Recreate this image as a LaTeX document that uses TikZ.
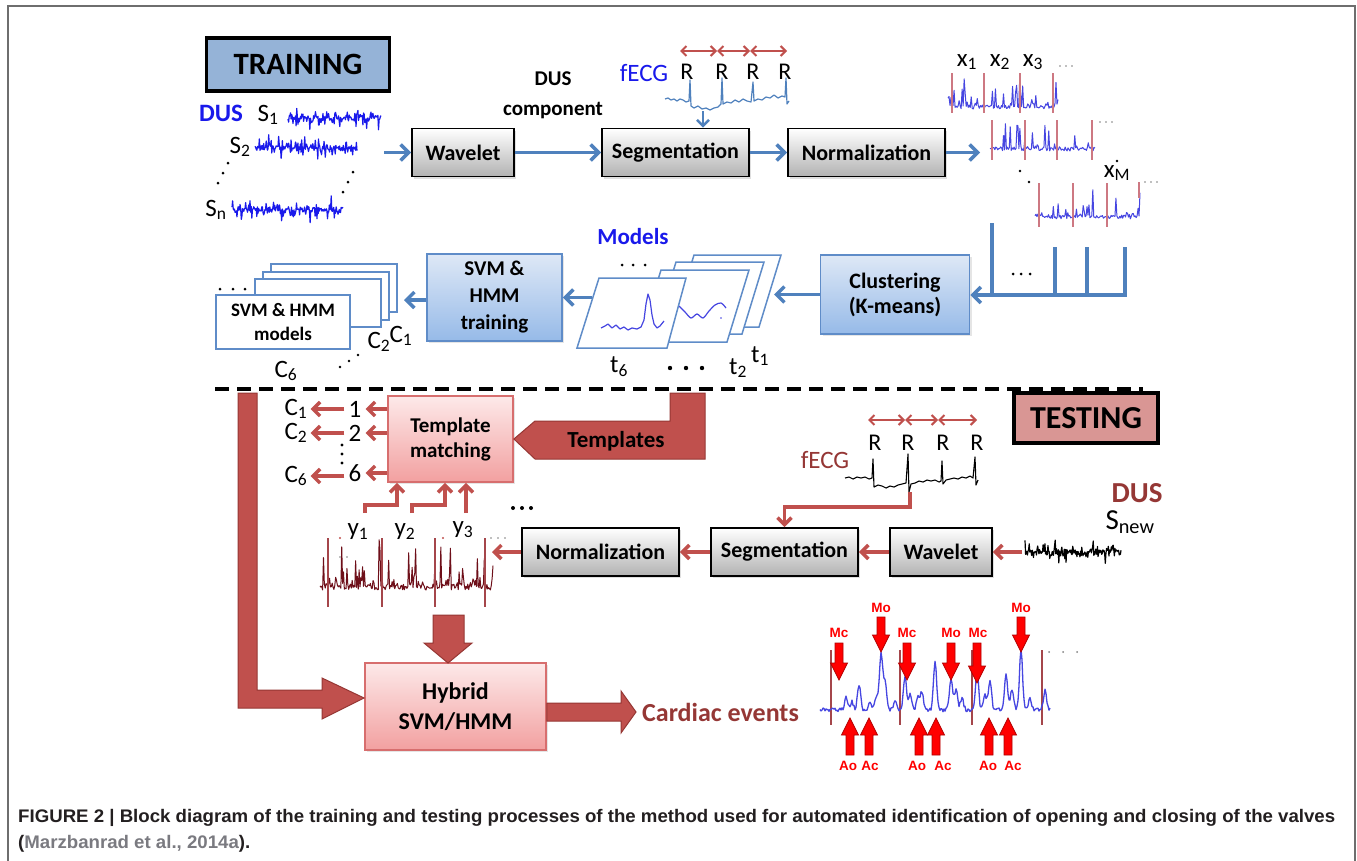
\documentclass[tikz,border=0pt]{standalone}
\usepackage{fontspec}
\setmainfont{Carlito}
\newfontfamily\capfont{Liberation Sans}
\usepackage{graphicx}
\usetikzlibrary{arrows.meta,shadows,calc}
\definecolor{tblue}{RGB}{79,129,189}
\definecolor{tred}{RGB}{192,80,77}
\definecolor{tredD}{RGB}{150,55,52}
\definecolor{dred}{RGB}{149,55,53}
\definecolor{sigblue}{RGB}{25,25,235}
\definecolor{nsblue}{RGB}{70,70,225}
\definecolor{nsline}{RGB}{205,120,130}
\definecolor{trainblue}{RGB}{149,179,215}
\definecolor{testpink}{RGB}{217,150,148}
\definecolor{boxgray}{RGB}{178,178,178}
\definecolor{blueT}{RGB}{222,232,246}
\definecolor{blueB}{RGB}{150,186,232}
\definecolor{bluebord}{RGB}{95,140,200}
\definecolor{pinkT}{RGB}{253,233,233}
\definecolor{pinkB}{RGB}{242,160,160}
\definecolor{pinkbord}{RGB}{215,110,110}
\definecolor{ecgred}{RGB}{110,15,25}
\definecolor{vlred}{RGB}{165,70,75}
\definecolor{capgray}{RGB}{122,122,128}
\definecolor{framegray}{RGB}{110,110,110}
\definecolor{captext}{RGB}{35,31,32}
\newcommand\bxf{\fontsize{22}{25}\selectfont\bfseries}
\newcommand\lbf{\fontsize{25}{28}\selectfont}
\newcommand\evf{\capfont\bfseries\fontsize{13.5}{15}\selectfont}
\newcommand\noisesig[6]{\pgfmathsetseed{#6}\draw[#1,line width=1.2pt,line join=round] plot[domain=#2:#3,samples=#5] (\x,{#4+2.5*rand+17*rand*rand*rand});}
\newcommand\normsig[4]{\pgfmathsetseed{#3}\draw[nsblue,line width=1pt,line join=round] plot[domain=#1:#4,samples=110] (\x,{#2-3-2*rand-28*pow(abs(rand),9)});}
\newcommand\dnar[3]{\filldraw[evarrow] ({#1-4},#2) -- ({#1+4},#2) -- ({#1+4},{#3-17}) -- ({#1+8.5},{#3-17}) -- (#1,#3) -- ({#1-8.5},{#3-17}) -- ({#1-4},{#3-17}) -- cycle;}
\newcommand\upar[3]{\filldraw[evarrow] ({#1-4},#2) -- ({#1+4},#2) -- ({#1+4},{#3+17}) -- ({#1+8.5},{#3+17}) -- (#1,#3) -- ({#1-8.5},{#3+17}) -- ({#1-4},{#3+17}) -- cycle;}
\newsavebox\capboxA
\newsavebox\capboxB
\begin{document}
\sbox\capboxA{\capfont\bfseries\fontsize{20}{24}\selectfont\color{captext}FIGURE 2 | Block diagram of the training and testing processes of the method used for automated identification of opening and closing of the valves}%
\sbox\capboxB{\capfont\bfseries\fontsize{20}{24}\selectfont\color{captext}(\textcolor{capgray}{Marzbanrad et al., 2014a}).}%
\pgfmathsetmacro\capsx{1317pt/\the\wd\capboxA}%
\begin{tikzpicture}[x=1pt,y=-1pt,
 barrow/.style={draw=tblue,line width=3.5pt,-{Straight Barb[length=8pt,width=16pt]}},
 barrowS/.style={draw=tblue,line width=2.5pt,-{Straight Barb[length=6pt,width=12pt]}},
 rarrow/.style={draw=tred,line width=3.5pt,-{Straight Barb[length=7pt,width=14pt]}},
 dbl/.style={draw=tred,line width=2pt,{Straight Barb[length=5pt,width=10pt]}-{Straight Barb[length=5pt,width=10pt]}},
 graybox/.style={draw=black,line width=1.8pt,top color=white,bottom color=boxgray,font=\bxf,minimum height=48pt,inner sep=0pt,drop shadow={opacity=0.25,shadow xshift=2pt,shadow yshift=-2pt}},
 bluebox/.style={draw=bluebord,line width=1.8pt,top color=blueT,bottom color=blueB,font=\bxf,align=center,inner sep=0pt,drop shadow={opacity=0.2,shadow xshift=2pt,shadow yshift=-2pt}},
 pinkbox/.style={draw=pinkbord,line width=1.8pt,top color=pinkT,bottom color=pinkB,font=\bxf,align=center,inner sep=0pt,drop shadow={opacity=0.2,shadow xshift=2pt,shadow yshift=-2pt}},
 sheet/.style={draw=bluebord,line width=1.5pt,fill=white},
 lbl/.style={font=\lbf,inner sep=0pt},
 bigred/.style={fill=tred,draw=tredD,line width=1pt},
 evarrow/.style={fill=red,draw=red!70!black,line width=0.8pt},
 evlbl/.style={font=\evf,text=red,inner sep=0pt}
]
\useasboundingbox (0,0) rectangle (1357,860);
\fill[white] (0,0) rectangle (1357,860);
\draw[framegray,line width=2pt] (8,870) -- (8,6) -- (1355,6) -- (1355,870);

% ---------------- TRAINING ----------------
\node[draw=black,line width=3.5pt,fill=trainblue,minimum width=183pt,minimum height=53pt,inner sep=0pt,font=\fontsize{31}{34}\selectfont\bfseries] (train) at (298,64.5) {TRAINING};

\node[lbl,font=\fontsize{25}{28}\selectfont\bfseries,text=sigblue] (dusA) at (221,113) {DUS};
\node[lbl] (sA) at (268,115) {S\textsubscript{1}};
\node[lbl] (sB) at (240,147) {S\textsubscript{2}};
\node[lbl] (sN) at (216,210) {S\textsubscript{n}};
\noisesig{sigblue}{288}{381}{118}{150}{11}
\noisesig{sigblue}{255}{357}{148}{165}{23}
\noisesig{sigblue}{232}{343}{210}{180}{37}
\foreach \p in {(228,163),(223,173),(218,183),(353,172),(348,182),(343,192)} \fill \p circle (1.5);

\coordinate (dusR) at (384,152.5);
\node[graybox,minimum width=102pt] (wav1) at (463,152.5) {Wavelet};
\node[graybox,minimum width=147pt] (seg1) at (675.5,152.5) {Segmentation};
\node[graybox,minimum width=157pt] (nor1) at (866.5,152.5) {Normalization};
\coordinate (xsL) at (980,152.5);
\draw[barrow] (dusR) -- (wav1);
\draw[barrow] (wav1) -- (seg1);
\draw[barrow] (seg1) -- (nor1);
\draw[barrow] (nor1) -- (xsL);

\node[font=\fontsize{21}{30}\selectfont\bfseries,align=center,inner sep=0pt] (dusc) at (553,95) {DUS\\component};

% fECG training
\node[lbl,text=sigblue] (fecgA) at (644,73) {fECG};
\foreach \i/\xx in {1/687,2/722,3/753,4/785} \node[lbl,font=\fontsize{24}{28}\selectfont] (rA\i) at (\xx,72) {R};
\foreach \i/\xx in {1/680,2/717,3/750,4/787} \coordinate (daA\i) at (\xx,51);
\foreach \i/\j in {1/2,2/3,3/4} \draw[dbl] (daA\i) -- (daA\j);
\draw[tblue,line width=1.2pt,line join=round] plot coordinates {(665,99)(668,98)(671,100)(674,99)(677,101)(680,99)(683,100)(686,102)(689,101)(690,80)(691,106)(694,108)(698,106)(702,109)(706,108)(710,110)(714,108)(718,107)(721,104)(722,78)(723,104)(727,102)(731,103)(735,100)(739,102)(743,99)(747,101)(751,102)(753,82)(754,101)(758,99)(762,100)(766,97)(770,98)(774,95)(778,98)(782,96)(785,97)(786,78)(787,104)(789,101)};
\coordinate (ecgA) at (703,111);
\draw[barrowS] (ecgA) -- (ecgA |- seg1.north);

% normalized segments (top right)
\normsig{948}{110}{5}{1058}
\foreach \xx in {952,984,1020,1053} \draw[nsline,line width=1.2pt] (\xx,73) -- (\xx,113);
\normsig{990}{152}{6}{1095}
\foreach \xx in {992,1025,1057,1092} \draw[nsline,line width=1.2pt] (\xx,120) -- (\xx,160);
\normsig{1035}{220}{8}{1140}
\foreach \xx in {1039,1073,1107} \draw[nsline,line width=1.2pt] (\xx,183) -- (\xx,227);
\draw[nsline,line width=1.2pt] (1139,182) -- (1139,198);
\node[lbl] (xA) at (967,62) {x\textsubscript{1}};
\node[lbl] (xB) at (1000,62) {x\textsubscript{2}};
\node[lbl] (xC) at (1033,62) {x\textsubscript{3}};
\node[lbl] (xM) at (1117,173) {x\textsubscript{M}};
\foreach \xx in {1060,1066,1072} \fill[gray] (\xx,66) circle (0.9);
\foreach \xx in {1100,1106,1112} \fill[gray] (\xx,122) circle (0.9);
\foreach \xx in {1145,1151,1157} \fill[gray] (\xx,182) circle (0.9);
\foreach \p in {(1020,171),(1029,182),(1117,161)} \fill \p circle (1.4);

% collector
\draw[tblue,line width=3.5pt] (992,223) -- (992,295);
\foreach \xx in {1055,1087,1125} \draw[tblue,line width=3.5pt] (\xx,247) -- (\xx,295);
\foreach \xx in {1013,1021,1030} \fill (\xx,274) circle (1.5);
\coordinate (collR) at (1126.75,295);
\node[bluebox,minimum width=149pt,minimum height=79pt] (clu) at (895,294.5) {Clustering\\(K-means)};
\draw[barrow] (collR) -- (clu.east |- collR);

% models stack
\draw[sheet] (694,255) -- (781,255) -- (759,327) -- (672,327) -- cycle;
\draw[sheet] (676,262) -- (764,262) -- (742,334) -- (654,334) -- cycle;
\draw[sheet] (661,270) -- (749,270) -- (727,342) -- (639,342) -- cycle;
\draw[nsblue,line width=1.2pt] plot[smooth] coordinates {(679,306)(685,312)(691,318)(697,314)(703,318)(709,311)(715,305)(721,303)(726,308)};
\fill[nsblue] (721,318) circle (0.9);
\draw[sheet] (599,278) -- (686,278) -- (667,348) -- (577,348) -- cycle;
\draw[nsblue,line width=1.2pt,line join=round] plot coordinates {(601,328)(605,326)(608,324)(612,328)(616,325)(620,329)(624,327)(628,330)(632,328)(637,329)(641,327)(644,320)(646,304)(648,294)(650,300)(652,315)(654,324)(657,328)(660,326)(664,321)};
\coordinate (modR) at (774,294.5);
\draw[barrow] (clu) -- (modR);
\node[font=\fontsize{23}{26}\selectfont\bfseries,text=sigblue,inner sep=0pt] (models) at (633,237) {Models};
\foreach \xx in {622,633,645} \fill (\xx,265) circle (1.5);
\node[lbl] (t6) at (619,367) {t\textsubscript{6}};
\node[lbl] (t2) at (738,368) {t\textsubscript{2}};
\node[lbl] (t1) at (760,356) {t\textsubscript{1}};
\foreach \xx in {670,686,702} \fill (\xx,368) circle (2.2);

\node[bluebox,minimum width=135pt,minimum height=87pt,font=\fontsize{21}{27}\selectfont\bfseries] (svmt) at (494.5,297.5) {SVM \&\\HMM\\training};
\coordinate (modL) at (592,297.5);
\draw[barrow] (modL) -- (svmt);

\draw[sheet] (271,264) rectangle (397,312);
\draw[sheet] (263,272) rectangle (389,320);
\draw[sheet] (255,279) rectangle (381,327);
\node[sheet,minimum width=134pt,minimum height=54pt,inner sep=0pt,align=center,font=\fontsize{19}{24}\selectfont\bfseries] (svmm) at (283,322) {SVM \& HMM\\models};
\coordinate (stackR) at (404,300);
\draw[barrow] (svmt.west |- stackR) -- (stackR);
\foreach \xx in {220,233,245} \fill (\xx,289) circle (1.5);
\node[lbl] (cc2) at (379,342) {C\textsubscript{2}};
\node[lbl] (cc1) at (401,336) {C\textsubscript{1}};
\node[lbl] (cc6) at (286,371) {C\textsubscript{6}};
\foreach \p in {(340,367),(349,361),(358,355)} \fill \p circle (1.4);

% dashed separator
\coordinate (dashL) at (215,389);
\coordinate (dashR) at (1143,389);
\draw[black,line width=3.5pt,dash pattern=on 14pt off 8pt] (dashL) -- (dashR);

% ---------------- TESTING ----------------
\node[draw=black,line width=3.5pt,fill=testpink,minimum width=144pt,minimum height=50pt,inner sep=0pt,font=\fontsize{32}{34}\selectfont\bfseries] (test) at (1086,418) {TESTING};

\node[pinkbox,minimum width=125pt,minimum height=86pt,font=\fontsize{21}{25}\selectfont\bfseries] (tm) at (450.5,439) {Template\\matching};
\filldraw[bigred] (670,393) -- (705,393) -- (705,459) -- (535,459) -- (tm.east) -- (535,421) -- (670,421) -- cycle;
\node[font=\fontsize{23}{26}\selectfont\bfseries,inner sep=0pt] (tmpl) at (616,441) {Templates};

\node[lbl] (n1) at (355,409) {1};
\node[lbl] (n2) at (355,433) {2};
\node[lbl] (n6) at (355,473) {6};
\node[lbl] (c1) at (296,409) {C\textsubscript{1}};
\node[lbl] (c2) at (296,433) {C\textsubscript{2}};
\node[lbl] (c6) at (296,476) {C\textsubscript{6}};
\draw[rarrow] (tm.west |- n1) -- ([xshift=4pt]n1.east);
\draw[rarrow] (tm.west |- n2) -- ([xshift=4pt]n2.east);
\draw[rarrow] (tm.west |- n6) -- ([xshift=4pt]n6.east);
\draw[rarrow] ([xshift=-4pt]n1.west) -- ([xshift=3pt]c1.east);
\draw[rarrow] ([xshift=-4pt]n2.west) -- ([xshift=3pt]c2.east);
\draw[rarrow] ([xshift=-4pt,yshift=-3pt]n6.west) -- ([xshift=3pt]c6.east);
\foreach \yy in {445,454,463} \fill (342,\yy) circle (1.6);

\coordinate (yA) at (365,513);
\coordinate (yB) at (412,513);
\coordinate (yC) at (466,513);
\draw[rarrow] (yA) -- (365,505) -| ([xshift=-53.5pt]tm.south);
\draw[rarrow] (yB) -- (412,505) -| ([xshift=-5.5pt]tm.south);
\draw[rarrow] (yC) -- (yC |- tm.south);
\foreach \xx in {513,522,531} \fill (\xx,508) circle (2);
\node[lbl] (ya) at (358,532) {y\textsubscript{1}};
\node[lbl] (yb) at (405,532) {y\textsubscript{2}};
\node[lbl] (yc) at (463,530) {y\textsubscript{3}};

\pgfmathsetseed{91}
\draw[ecgred,line width=1pt,line join=round] plot[domain=320:493,samples=200] (\x,{591-4-3*rand-48*pow(abs(rand),10)});
\foreach \xx in {328,382,435,485} \draw[vlred,line width=1.3pt] (\xx,538) -- (\xx,607);
\foreach \p in {(340,557),(347,557),(491,538),(498,538),(505,538)} \fill[gray] \p circle (0.9);
\foreach \p in {(340,538),(443,538)} \fill[tred] \p circle (1.2);

\node[graybox,minimum width=157pt] (nor2) at (600.5,552) {Normalization};
\node[graybox,minimum width=147pt] (seg2) at (784.5,552) {Segmentation};
\node[graybox,minimum width=102pt] (wav2) at (941,552) {Wavelet};
\coordinate (nsR) at (492,552);
\coordinate (snL) at (1022,552);
\draw[rarrow] (snL) -- (wav2);
\draw[rarrow] (wav2) -- (seg2);
\draw[rarrow] (seg2) -- (nor2);
\draw[rarrow] (nor2) -- (nsR);

\noisesig{black}{1025}{1121}{552}{160}{53}
\node[font=\fontsize{29}{32}\selectfont\bfseries,text=dred,inner sep=0pt] (dusB) at (1137,493) {DUS};
\node[font=\fontsize{29}{32}\selectfont,inner sep=0pt] (snew) at (1130,522) {S\textsubscript{new}};

\node[lbl,text=dred] (fecgB) at (825,460) {fECG};
\foreach \i/\xx in {1/875,2/908,3/943,4/977} \node[lbl,font=\fontsize{24}{28}\selectfont] (rB\i) at (\xx,443) {R};
\foreach \i/\xx in {1/868,2/905,3/938,4/977} \coordinate (daB\i) at (\xx,420);
\foreach \i/\j in {1/2,2/3,3/4} \draw[dbl] (daB\i) -- (daB\j);
\draw[black,line width=1.1pt,line join=round] plot coordinates {(845,478)(849,477)(853,479)(857,477)(861,478)(865,477)(869,479)(872,478)(873,459)(874,487)(878,485)(882,486)(886,488)(890,486)(894,487)(898,485)(902,484)(906,483)(908,454)(909,492)(911,484)(915,483)(919,481)(923,482)(927,480)(931,481)(935,480)(939,482)(941,481)(942,461)(943,484)(946,480)(950,479)(954,478)(958,479)(962,477)(966,478)(970,476)(973,478)(975,457)(976,485)(978,480)};
\coordinate (ecgB) at (910,492);
\draw[rarrow] (ecgB) -- (910,507) -| (seg2.north);

% big block arrows
\node[pinkbox,minimum width=181pt,minimum height=87pt,font=\fontsize{24}{30}\selectfont\bfseries] (hyb) at (455.5,706.5) {Hybrid\\SVM/HMM};
\filldraw[bigred] (238,393) -- (257,393) -- (257,690) -- (322,690) -- (322,678) -- (hyb.west |- 0,698) -- (322,719) -- (322,708) -- (238,708) -- cycle;
\filldraw[bigred] (433,615) -- (464,615) -- (464,643) -- (472,643) -- (448,663) -- (424,643) -- (433,643) -- cycle;
\filldraw[bigred] (hyb.east |- 0,703) -- (621,703) -- (621,691) -- (636,712) -- (621,733) -- (621,721) -- (hyb.east |- 0,721) -- cycle;
\node[font=\fontsize{26}{30}\selectfont\bfseries,text=dred,anchor=west,inner sep=0pt] (card) at (642,712) {Cardiac events};

% annotated cardiac events signal
\foreach \xx in {831,900,972,1042} \draw[vlred,line width=1.5pt] (\xx,650) -- (\xx,725);
\foreach \xx in {1049,1063,1077} \fill[gray] (\xx,652) circle (1);
\pgfmathsetseed{7}
\draw[nsblue,line width=1.3pt,line join=round] plot[domain=820:1050,samples=231] (\x,{713-3-2*rand
 -12*exp(-((\x-846)/2.2)^2)-8*exp(-((\x-852)/2.2)^2)-25*exp(-((\x-859)/2.2)^2)
 -8*exp(-((\x-870)/2.2)^2)-14*exp(-((\x-876)/2.2)^2)-58*exp(-((\x-881)/2.2)^2)
 -30*exp(-((\x-885)/2.2)^2)-8*exp(-((\x-895)/2.2)^2)-33*exp(-((\x-905)/2.2)^2)
 -15*exp(-((\x-910)/2.2)^2)-12*exp(-((\x-918)/2.2)^2)-18*exp(-((\x-922)/2.2)^2)
 -48*exp(-((\x-935)/2.2)^2)-32*exp(-((\x-951)/2.2)^2)-20*exp(-((\x-956)/2.2)^2)
 -12*exp(-((\x-962)/2.2)^2)-38*exp(-((\x-977)/2.2)^2)-15*exp(-((\x-985)/2.2)^2)
 -30*exp(-((\x-990)/2.2)^2)-36*exp(-((\x-1006)/2.2)^2)-20*exp(-((\x-1012)/2.2)^2)
 -60*exp(-((\x-1021)/2.2)^2)-12*exp(-((\x-1030)/2.2)^2)-20*exp(-((\x-1045)/2.2)^2)});
\dnar{839}{643}{680}
\dnar{881}{617}{652}
\dnar{907}{643}{680}
\dnar{951}{643}{680}
\dnar{977}{643}{683}
\dnar{1021}{617}{652}
\node[evlbl] (mc1) at (839,633) {Mc};
\node[evlbl] (mo1) at (881,608) {Mo};
\node[evlbl] (mc2) at (907,633) {Mc};
\node[evlbl] (mo2) at (951,633) {Mo};
\node[evlbl] (mc3) at (978,633) {Mc};
\node[evlbl] (mo3) at (1021,608) {Mo};
\foreach \xx in {850,869,919,936,989,1008} {\upar{\xx}{755}{718}}
\node[evlbl] (ao1) at (848,766) {Ao};
\node[evlbl] (ac1) at (870,766) {Ac};
\node[evlbl] (ao2) at (917,766) {Ao};
\node[evlbl] (ac2) at (943,766) {Ac};
\node[evlbl] (ao3) at (988,766) {Ao};
\node[evlbl] (ac3) at (1013,766) {Ac};

% caption
\node[anchor=base west,inner sep=0pt] (capA) at (18,822) {\scalebox{\capsx}[0.91]{\usebox\capboxA}};
\node[anchor=base west,inner sep=0pt] (capB) at (18,848) {\scalebox{\capsx}[0.91]{\usebox\capboxB}};
\end{tikzpicture}
\end{document}
